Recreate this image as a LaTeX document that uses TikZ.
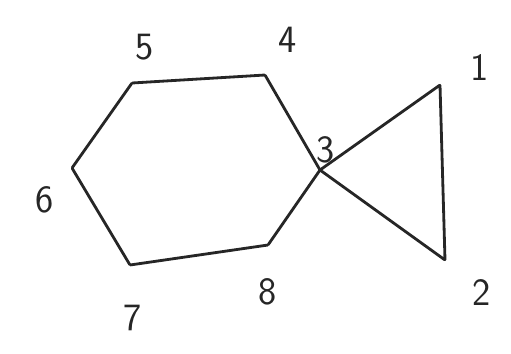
\documentclass[tikz,border=0pt]{standalone}
\usepackage{tikz}
\usetikzlibrary{positioning}
\tikzset{
  vtx/.style={inner sep=0pt, minimum size=0pt},
  lbl/.style={font=\fontsize{22}{26}\selectfont\sffamily, text=black!85},
  edge/.style={draw=black!85, line width=1.6pt, line join=round, line cap=round},
}
\begin{document}
\begin{tikzpicture}[x=0.02cm, y=-0.02cm]
    \useasboundingbox (0,0) rectangle (511,353);
    % hexagon
    \node[vtx] (v6) at (72,168) {};
    \node[vtx] (v5) at (132,83) {};
    \node[vtx] (v4) at (265,75) {};
    \node[vtx] (v3) at (320,170) {};
    \node[vtx] (v8) at (268,245) {};
    \node[vtx] (v7) at (130,265) {};
    % triangle
    \node[vtx] (v1) at (440,85) {};
    \node[vtx] (v2) at (445,260) {};
    \draw[edge] (v6) -- (v5) -- (v4) -- (v3) -- (v8) -- (v7) -- (v6);
    \draw[edge] (v3) -- (v1) -- (v2) -- (v3);
    % labels
    \node[lbl] (l1) at (480,68) {1};
    \node[lbl] (l2) at (482,293) {2};
    \node[lbl] (l3) at (326,150) {3};
    \node[lbl] (l4) at (288,40) {4};
    \node[lbl] (l5) at (145,47) {5};
    \node[lbl] (l6) at (45,200) {6};
    \node[lbl] (l7) at (133,318) {7};
    \node[lbl] (l8) at (268,292) {8};
  \end{tikzpicture}
\end{document}
